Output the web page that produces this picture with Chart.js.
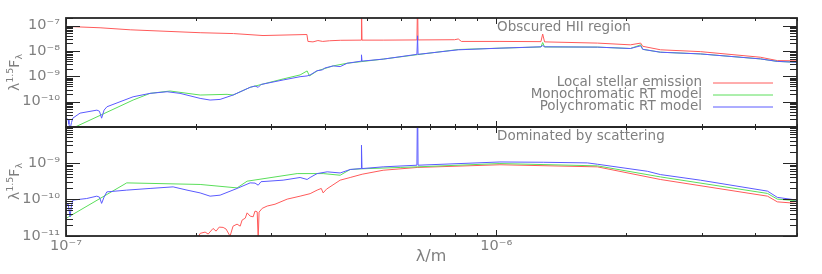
<!DOCTYPE html>
<html>
<head>
<meta charset="utf-8">
<script src="https://cdn.jsdelivr.net/npm/chart.js@4/dist/chart.umd.min.js"></script>
<style>
  html, body { margin:0; padding:0; background:#fff; }
  #wrap { position:relative; width:822px; height:274px; }
  #wrap canvas { position:absolute; left:0; top:0; }
</style>
</head>
<body>
<div id="wrap">
  <canvas id="topChart" width="822" height="274"></canvas>
  <canvas id="bottomChart" width="822" height="274"></canvas>
</div>
<script>
// wavelengths in m, fluxes as lambda^1.5 F_lambda
const xMin = 1e-7, xMax = 5.0e-6;
const topYMin = 1e-11, topYMax = 2.02e-7;
const botYMin = 1e-11, botYMax = 9.6e-9;

const seriesNames = ["Local stellar emission", "Monochromatic RT model", "Polychromatic RT model"];
const seriesColors = ["#ff5a5a", "#5ade5a", "#5a5aff"];

// panel 1: Obscured HII region
const topStarLam = [1.0e-7, 1.2e-7, 1.41e-7, 2.05e-7, 2.45e-7, 2.87e-7, 3.63e-7, 3.65e-7, 3.75e-7, 3.85e-7, 3.95e-7, 4.1e-7, 4.34e-7, 4.85e-7, 4.861e-7, 4.875e-7, 5.46e-7, 6.54e-7, 6.563e-7, 6.58e-7, 8.0e-7, 8.16e-7, 8.3e-7, 1.02e-6, 1.27e-6, 1.282e-6, 1.295e-6, 1.72e-6, 2.05e-6, 2.166e-6, 2.19e-6, 2.41e-6, 2.98e-6, 4.11e-6, 4.5e-6, 5.0e-6];
const topStarF = [9.4e-8, 8.3e-8, 6.9e-8, 5.3e-8, 4.9e-8, 4.1e-8, 4.5e-8, 2.4e-8, 2.3e-8, 2.6e-8, 2.4e-8, 2.55e-8, 2.66e-8, 2.7e-8, 1e-6, 2.7e-8, 2.7e-8, 2.75e-8, 1e-6, 2.75e-8, 2.8e-8, 3.0e-8, 2.4e-8, 2.4e-8, 2.35e-8, 4.7e-8, 2.3e-8, 2.06e-8, 1.76e-8, 2.06e-8, 1.54e-8, 1.12e-8, 9.5e-9, 5.7e-9, 4.2e-9, 4.1e-9];

const topMonoLam = [1.0e-7, 1.432e-7, 1.568e-7, 1.745e-7, 2.05e-7, 2.368e-7, 2.445e-7, 2.679e-7, 3.196e-7, 3.5e-7, 3.634e-7, 3.68e-7, 3.834e-7, 4.178e-7, 4.503e-7, 5.46e-7, 6.55e-7, 8.16e-7, 1.02e-6, 1.27e-6, 1.282e-6, 1.295e-6, 1.718e-6, 2.05e-6, 2.166e-6, 2.19e-6, 2.406e-6, 2.98e-6, 4.11e-6, 4.5e-6, 5.0e-6];
const topMonoF = [6.8e-12, 1.16e-10, 2.13e-10, 2.64e-10, 1.83e-10, 1.95e-10, 1.83e-10, 3.69e-10, 7.9e-10, 1.14e-9, 1.64e-9, 1.04e-9, 1.64e-9, 2.59e-9, 3.3e-9, 4.8e-9, 7.2e-9, 1.15e-8, 1.3e-8, 1.45e-8, 2.17e-8, 1.45e-8, 1.43e-8, 1.26e-8, 1.76e-8, 1.17e-8, 9.0e-9, 7.7e-9, 4.9e-9, 3.9e-9, 3.6e-9];

const topPolyLam = [1.0e-7, 1.011e-7, 1.016e-7, 1.022e-7, 1.03e-7, 1.037e-7, 1.078e-7, 1.18e-7, 1.196e-7, 1.21e-7, 1.226e-7, 1.245e-7, 1.432e-7, 1.568e-7, 1.718e-7, 1.841e-7, 2.05e-7, 2.162e-7, 2.281e-7, 2.445e-7, 2.679e-7, 2.75e-7, 2.797e-7, 2.84e-7, 3.196e-7, 3.5e-7, 3.634e-7, 3.693e-7, 3.834e-7, 3.94e-7, 4.0e-7, 4.178e-7, 4.337e-7, 4.503e-7, 4.85e-7, 4.861e-7, 4.875e-7, 5.46e-7, 6.54e-7, 6.563e-7, 6.58e-7, 8.16e-7, 1.02e-6, 1.27e-6, 1.282e-6, 1.295e-6, 1.718e-6, 2.05e-6, 2.166e-6, 2.19e-6, 2.406e-6, 2.98e-6, 4.11e-6, 4.5e-6, 5.0e-6];
const topPolyF = [2.17e-11, 2.0e-11, 1.3e-11, 8.4e-12, 1.5e-11, 2.23e-11, 3.53e-11, 4.64e-11, 4.2e-11, 2.23e-11, 4.64e-11, 6.3e-11, 1.56e-10, 2.13e-10, 2.47e-10, 2.13e-10, 1.35e-10, 1.16e-10, 1.23e-10, 1.83e-10, 3.69e-10, 4.16e-10, 3.69e-10, 4.78e-10, 7.2e-10, 9.7e-10, 1.04e-9, 1.14e-9, 1.68e-9, 1.8e-9, 2.15e-9, 2.59e-9, 2.43e-9, 3.3e-9, 3.98e-9, 7.1e-9, 4.0e-9, 4.8e-9, 7.4e-9, 4.0e-8, 7.4e-9, 1.12e-8, 1.3e-8, 1.47e-8, 1.65e-8, 1.47e-8, 1.43e-8, 1.26e-8, 1.61e-8, 1.17e-8, 9.0e-9, 7.7e-9, 4.9e-9, 3.9e-9, 3.6e-9];

// panel 2: Dominated by scattering
const botStarLam = [2.03e-7, 2.05e-7, 2.105e-7, 2.14e-7, 2.197e-7, 2.233e-7, 2.27e-7, 2.318e-7, 2.355e-7, 2.406e-7, 2.445e-7, 2.498e-7, 2.54e-7, 2.566e-7, 2.61e-7, 2.636e-7, 2.679e-7, 2.723e-7, 2.75e-7, 2.782e-7, 2.797e-7, 2.81e-7, 2.857e-7, 2.935e-7, 3.06e-7, 3.266e-7, 3.5e-7, 3.693e-7, 3.834e-7, 3.92e-7, 3.96e-7, 4.03e-7, 4.337e-7, 4.576e-7, 4.879e-7, 5.46e-7, 6.55e-7, 1.02e-6, 1.718e-6, 2.406e-6, 4.27e-6, 4.5e-6, 5.0e-6];
const botStarF = [9.3e-12, 1.18e-11, 1.28e-11, 1.13e-11, 1.61e-11, 1.36e-11, 1.75e-11, 1.72e-11, 1.55e-11, 9.9e-12, 1.86e-11, 2.11e-11, 1.86e-11, 2.72e-11, 3.08e-11, 4.3e-11, 3.5e-11, 3.35e-11, 4.8e-11, 4.58e-11, 8e-12, 4.5e-11, 5.7e-11, 6.6e-11, 7.4e-11, 1.02e-10, 1.23e-10, 1.44e-10, 1.8e-10, 2.0e-10, 1.51e-10, 1.91e-10, 3.37e-10, 3.99e-10, 4.9e-10, 6.3e-10, 7.5e-10, 8.9e-10, 7.8e-10, 3.52e-10, 1.23e-10, 8.6e-11, 7.8e-11];

const botMonoLam = [1.0e-7, 1.384e-7, 2.05e-7, 2.498e-7, 2.636e-7, 3.445e-7, 3.96e-7, 4.337e-7, 4.576e-7, 4.827e-7, 5.98e-7, 6.55e-7, 1.02e-6, 1.718e-6, 2.406e-6, 4.27e-6, 4.5e-6, 5.0e-6];
const botMonoF = [3.03e-11, 2.84e-10, 2.57e-10, 2.07e-10, 3.16e-10, 5.1e-10, 5.1e-10, 4.6e-10, 6.6e-10, 6.86e-10, 7.5e-10, 7.8e-10, 9.6e-10, 8.3e-10, 4.14e-10, 1.46e-10, 1.02e-10, 9.2e-11];

const botPolyLam = [1.0e-7, 1.011e-7, 1.022e-7, 1.03e-7, 1.038e-7, 1.117e-7, 1.179e-7, 1.196e-7, 1.21e-7, 1.226e-7, 1.244e-7, 1.384e-7, 1.568e-7, 1.774e-7, 1.911e-7, 2.05e-7, 2.162e-7, 2.281e-7, 2.498e-7, 2.679e-7, 2.75e-7, 2.797e-7, 2.84e-7, 3.196e-7, 3.5e-7, 3.634e-7, 3.693e-7, 3.834e-7, 4.046e-7, 4.337e-7, 4.576e-7, 4.85e-7, 4.861e-7, 4.875e-7, 5.46e-7, 6.54e-7, 6.563e-7, 6.58e-7, 1.02e-6, 1.286e-6, 1.628e-6, 1.718e-6, 2.245e-6, 2.406e-6, 2.98e-6, 4.27e-6, 4.5e-6, 5.0e-6];
const botPolyF = [6.3e-11, 7.9e-11, 3.35e-11, 6.98e-11, 9.6e-11, 1.06e-10, 1.23e-10, 1.16e-10, 7.8e-11, 1.16e-10, 1.61e-10, 1.8e-10, 2.0e-10, 2.21e-10, 1.8e-10, 1.51e-10, 1.23e-10, 1.31e-10, 2.0e-10, 2.84e-10, 2.8e-10, 2.46e-10, 3.06e-10, 3.37e-10, 3.99e-10, 3.52e-10, 3.99e-10, 5.1e-10, 5.7e-10, 5.3e-10, 6.6e-10, 7.0e-10, 3.05e-9, 7.0e-10, 7.8e-10, 8.65e-10, 1e-7, 8.65e-10, 1.06e-9, 1.04e-9, 1.0e-9, 9.2e-10, 5.9e-10, 4.8e-10, 3.37e-10, 1.69e-10, 1.14e-10, 9.6e-11];

const FONT = '"DejaVu Sans", sans-serif';
const TEXT_GREY = "#7f7f7f";

const supMap = {"-":"\u207b","0":"\u2070","1":"\u00b9","2":"\u00b2","3":"\u00b3","4":"\u2074","5":"\u2075","6":"\u2076","7":"\u2077","8":"\u2078","9":"\u2079"};

function decadeLabel(v, skip){
  const lg = Math.log10(v);
  const e = Math.round(lg);
  if (Math.abs(lg - e) > 1e-6 || skip.includes(e)) return "";
  return "10" + String(e).split("").map(c => supMap[c]).join("");
}

const zip = (xs, ys) => xs.map((x, i) => ({x, y: ys[i]}));

function datasetsFor(starLam, starF, monoLam, monoF, polyLam, polyF){
  // first dataset is painted last, so the polychromatic line sits on top
  return [
    {label: seriesNames[2], data: zip(polyLam, polyF), borderColor: seriesColors[2]},
    {label: seriesNames[1], data: zip(monoLam, monoF), borderColor: seriesColors[1]},
    {label: seriesNames[0], data: zip(starLam, starF), borderColor: seriesColors[0]},
  ].map(d => ({...d, borderWidth: 1, pointRadius: 0, fill: false, tension: 0}));
}

function logTickValues(min, max){
  const out = [];
  for (let e = Math.floor(Math.log10(min)) - 1; e <= Math.ceil(Math.log10(max)); e++) {
    for (let m = 1; m < 10; m++) {
      const v = m * Math.pow(10, e);
      if (v >= min * 0.999 && v <= max * 1.001) out.push({v, major: m === 1});
    }
  }
  return out;
}

const frameTicks = {
  id: "frameTicks",
  afterDatasetsDraw(chart){
    const {ctx, chartArea: a, scales: {x, y}} = chart;
    ctx.save();
    ctx.strokeStyle = "#262626";
    ctx.lineWidth = 1;
    ctx.beginPath();
    logTickValues(y.min, y.max).forEach(t => {
      const py = Math.round(y.getPixelForValue(t.v)) + 0.5;
      const len = t.major ? 14 : 7;
      ctx.moveTo(a.left, py); ctx.lineTo(a.left + len, py);
      ctx.moveTo(a.right, py); ctx.lineTo(a.right - len, py);
    });
    logTickValues(x.min, x.max).forEach(t => {
      const px = Math.round(x.getPixelForValue(t.v)) + 0.5;
      const len = t.major ? 6 : 3;
      ctx.moveTo(px, a.bottom); ctx.lineTo(px, a.bottom - len);
      ctx.moveTo(px, a.top); ctx.lineTo(px, a.top + len);
    });
    ctx.stroke();
    ctx.lineWidth = 1.8;
    ctx.strokeRect(a.left, a.top, a.right - a.left, a.bottom - a.top);
    ctx.restore();
  }
};

function drawYTitle(ctx, cx, cy){
  const parts = [
    {t: "\u03bb", size: 14, dy: 0},
    {t: "1.5", size: 9.5, dy: -6},
    {t: "F", size: 14, dy: 0},
    {t: "\u03bb", size: 9.5, dy: 3},
  ];
  let w = 0;
  parts.forEach(p => { ctx.font = p.size + "px " + FONT; p.w = ctx.measureText(p.t).width; w += p.w; });
  ctx.save();
  ctx.translate(cx, cy);
  ctx.rotate(-Math.PI / 2);
  ctx.textBaseline = "alphabetic";
  ctx.textAlign = "left";
  let px = -w / 2;
  parts.forEach(p => {
    ctx.font = p.size + "px " + FONT;
    ctx.fillText(p.t, px, p.dy);
    px += p.w;
  });
  ctx.restore();
}

const panelText = {
  id: "panelText",
  afterDraw(chart, args, o){
    const {ctx, chartArea: a} = chart;
    ctx.save();
    ctx.fillStyle = TEXT_GREY;
    ctx.font = "13.5px " + FONT;
    ctx.textBaseline = "middle";
    ctx.textAlign = "left";
    ctx.fillText(o.title, 497, a.top + 9);
    drawYTitle(ctx, 19, (a.top + a.bottom) / 2);
    if (o.legend) {
      ctx.font = "13.5px " + FONT;
      ctx.textAlign = "right";
      seriesNames.forEach((name, i) => {
        const ly = 83 + i * 12;
        ctx.fillStyle = TEXT_GREY;
        ctx.fillText(name, 702, ly - 1);
        ctx.strokeStyle = seriesColors[i];
        ctx.lineWidth = 1;
        ctx.beginPath();
        ctx.moveTo(713, ly); ctx.lineTo(773, ly);
        ctx.stroke();
      });
    }
    if (o.xTitle) {
      ctx.fillStyle = TEXT_GREY;
      ctx.font = "16px " + FONT;
      ctx.textAlign = "center";
      ctx.fillText(o.xTitle, 431, 257);
    }
    ctx.restore();
  }
};

function makeChart(id, datasets, yMin, yMax, skipY, pad, showX, text){
  return new Chart(document.getElementById(id), {
    type: "line",
    data: {datasets},
    plugins: [frameTicks, panelText],
    options: {
      responsive: false,
      animation: false,
      devicePixelRatio: 1,
      events: [],
      layout: {padding: pad},
      plugins: {legend: {display: false}, tooltip: {enabled: false}, panelText: text},
      scales: {
        x: {
          type: "logarithmic", min: xMin, max: xMax, display: showX,
          grid: {display: false, drawTicks: false}, border: {display: false},
          afterFit: s => { s.height = showX ? 38 : 0; },
          ticks: {autoSkip: false, maxRotation: 0, padding: 2, color: TEXT_GREY, font: {family: FONT, size: 14.5},
                  callback: v => decadeLabel(v, [])}
        },
        y: {
          type: "logarithmic", min: yMin, max: yMax,
          grid: {display: false, drawTicks: false}, border: {display: false},
          afterFit: s => { s.width = 66; },
          ticks: {autoSkip: false, padding: 6, color: TEXT_GREY, font: {family: FONT, size: 14.5},
                  callback: v => decadeLabel(v, skipY)}
        }
      }
    }
  });
}

makeChart("topChart",
  datasetsFor(topStarLam, topStarF, topMonoLam, topMonoF, topPolyLam, topPolyF),
  topYMin, topYMax, [-11], {top: 18, right: 25, bottom: 147, left: 0}, false,
  {title: "Obscured HII region", legend: true});

makeChart("bottomChart",
  datasetsFor(botStarLam, botStarF, botMonoLam, botMonoF, botPolyLam, botPolyF),
  botYMin, botYMax, [-8], {top: 127, right: 25, bottom: 0, left: 0}, true,
  {title: "Dominated by scattering", legend: false, xTitle: "\u03bb/m"});
</script>
</body>
</html>
